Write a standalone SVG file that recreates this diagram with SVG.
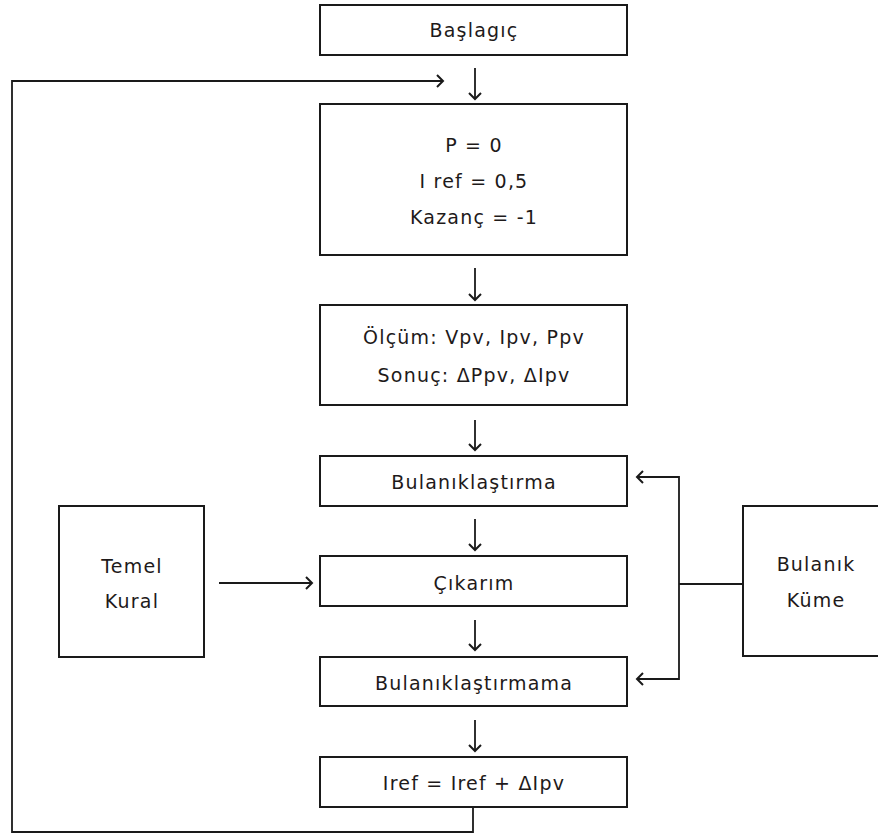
<svg xmlns="http://www.w3.org/2000/svg" width="878" height="834" viewBox="0 0 878 834">
  <style>
    .box { fill: #ffffff; stroke: #1a1a1a; stroke-width: 2; }
    .lbl { font-family: "DejaVu Sans", "Liberation Sans", sans-serif; font-size: 19px; letter-spacing: 1.2px; fill: #1e1a1a; text-anchor: middle; }
    .wire { fill: none; stroke: #1a1a1a; stroke-width: 2; }
    .arw { fill: none; stroke: #1a1a1a; stroke-width: 1.8; marker-end: url(#chev); }
  </style>
  <defs>
    <marker id="chev" markerUnits="userSpaceOnUse" markerWidth="14" markerHeight="16" viewBox="-8 -8 10 16" refX="0" refY="0" orient="auto">
      <path d="M-6,-6 L0,0 L-6,6" fill="none" stroke="#1a1a1a" stroke-width="2"/>
    </marker>
  </defs>
  <rect width="878" height="834" fill="#ffffff"/>

  <g id="start">
    <rect class="box" x="320" y="5" width="307" height="50"/>
    <text class="lbl" x="474" y="37">Başlagıç</text>
  </g>

  <g id="init">
    <rect class="box" x="320" y="104" width="307" height="151"/>
    <text class="lbl" x="474" y="152">P = 0</text>
    <text class="lbl" x="474" y="188">I ref = 0,5</text>
    <text class="lbl" x="474" y="224">Kazanç = -1</text>
  </g>

  <g id="measure">
    <rect class="box" x="320" y="305" width="307" height="100"/>
    <text class="lbl" x="474" y="344">Ölçüm: Vpv, Ipv, Ppv</text>
    <text class="lbl" x="474" y="382">Sonuç: ΔPpv, ΔIpv</text>
  </g>

  <g id="fuzzify">
    <rect class="box" x="320" y="456" width="307" height="50"/>
    <text class="lbl" x="474" y="489">Bulanıklaştırma</text>
  </g>

  <g id="inference">
    <rect class="box" x="320" y="556" width="307" height="50"/>
    <text class="lbl" x="474" y="590">Çıkarım</text>
  </g>

  <g id="defuzzify">
    <rect class="box" x="320" y="657" width="307" height="49"/>
    <text class="lbl" x="474" y="690">Bulanıklaştırmama</text>
  </g>

  <g id="update">
    <rect class="box" x="320" y="757" width="307" height="50"/>
    <text class="lbl" x="474" y="790">Iref = Iref + ΔIpv</text>
  </g>

  <g id="rules">
    <rect class="box" x="59" y="506" width="145" height="151"/>
    <text class="lbl" x="132" y="573">Temel</text>
    <text class="lbl" x="132" y="608">Kural</text>
  </g>

  <g id="fuzzy-set">
    <rect class="box" x="743" y="506" width="144" height="150"/>
    <text class="lbl" x="816" y="571">Bulanık</text>
    <text class="lbl" x="816" y="607">Küme</text>
  </g>

  <g id="connectors">
    <line class="arw" x1="475" y1="68" x2="475" y2="99"/>
    <line class="arw" x1="475" y1="268" x2="475" y2="300"/>
    <line class="arw" x1="475" y1="420" x2="475" y2="450"/>
    <line class="arw" x1="475" y1="519" x2="475" y2="550"/>
    <line class="arw" x1="475" y1="620" x2="475" y2="650"/>
    <line class="arw" x1="475" y1="720" x2="475" y2="751"/>
    <line class="arw" x1="219" y1="583" x2="312" y2="583"/>
    <path class="wire" d="M743,584 H679"/>
    <path class="arw" d="M679,584 V477 H637"/>
    <path class="arw" d="M679,584 V679 H637"/>
    <path class="arw" d="M473,807 V832 H12 V81 H443"/>
  </g>
</svg>
